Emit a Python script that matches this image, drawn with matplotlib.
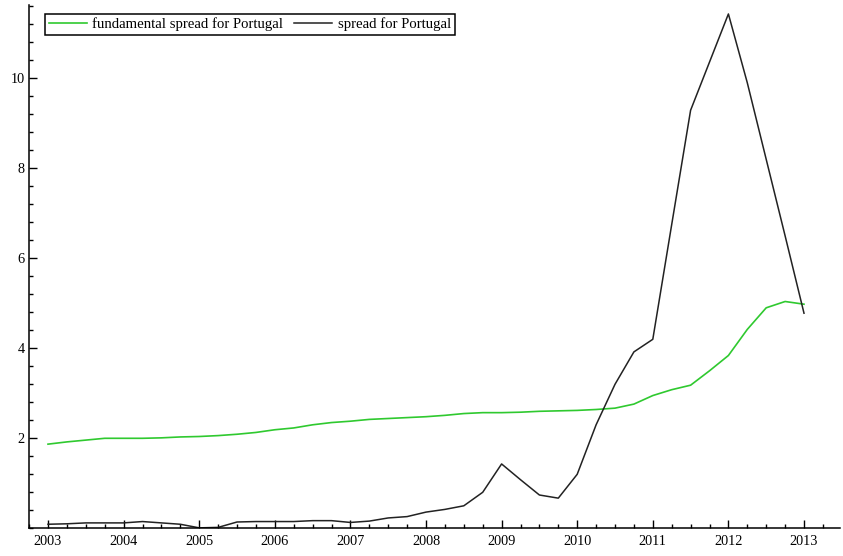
import numpy as np
import matplotlib
matplotlib.use("Agg")
import matplotlib.pyplot as plt
from matplotlib.ticker import MultipleLocator, FixedLocator

# Quarterly observations, 2003Q1 .. 2013Q1
years = np.arange(2003.0, 2013.01, 0.25)

fundamental_spread = [
    1.87, 1.92, 1.96, 2.00, 2.00, 2.00, 2.01, 2.03,
    2.04, 2.06, 2.09, 2.13, 2.19, 2.23, 2.30, 2.35,
    2.38, 2.42, 2.44, 2.46, 2.48, 2.51, 2.55, 2.57,
    2.57, 2.58, 2.60, 2.61, 2.62, 2.64, 2.67, 2.76,
    2.95, 3.08, 3.18, 3.50, 3.84, 4.42, 4.90, 5.04,
    4.98,
]

spread = [
    0.09, 0.10, 0.12, 0.12, 0.12, 0.15, 0.12, 0.09,
    0.01, 0.02, 0.14, 0.15, 0.15, 0.15, 0.17, 0.17,
    0.13, 0.16, 0.23, 0.26, 0.36, 0.42, 0.50, 0.80,
    1.43, 1.08, 0.74, 0.67, 1.20, 2.30, 3.20, 3.92,
    4.20, 6.75, 9.29, 10.36, 11.43, 9.90, 8.20, 6.50,
    4.78,
]

y_major = [2, 4, 6, 8, 10]
x_major = list(range(2003, 2014))

plt.rcParams["font.family"] = ["Liberation Serif", "DejaVu Serif"]

W, H = 843, 556
fig = plt.figure(figsize=(W / 100, H / 100), dpi=100)
left_px, right_px, top_px, bottom_px = 29, 840, 5, 528.3
ax = fig.add_axes([left_px / W, 1 - bottom_px / H,
                   (right_px - left_px) / W, (bottom_px - top_px) / H])

ax.plot(years, fundamental_spread, color="#2fc92f", lw=1.2,
        label="fundamental spread for Portugal")
ax.plot(years, spread, color="#222222", lw=1.1,
        label="spread for Portugal")

# x: 2003 sits at pixel 48, 75.6 px per year
px_per_year = 75.6
x0 = 2003 - (48 - left_px) / px_per_year
x1 = 2003 + (right_px - 48) / px_per_year
ax.set_xlim(x0, x1)
ax.set_ylim(0, (bottom_px - top_px) / 45.0)

ax.xaxis.set_major_locator(FixedLocator(x_major))
ax.xaxis.set_minor_locator(MultipleLocator(0.25))
ax.yaxis.set_major_locator(FixedLocator(y_major))
ax.yaxis.set_minor_locator(MultipleLocator(0.4))
ax.set_xticklabels([str(v) for v in x_major])
ax.set_yticklabels([str(v) for v in y_major])

ax.tick_params(which="both", direction="in", color="black", width=1.0,
               labelsize=10.3, top=False, right=False)
ax.tick_params(which="major", length=5.5)
ax.tick_params(which="minor", length=2.8)
ax.tick_params(axis="x", which="major", pad=5)
ax.tick_params(axis="y", which="major", pad=3)

for side in ("top", "right"):
    ax.spines[side].set_visible(False)
for side in ("left", "bottom"):
    ax.spines[side].set_linewidth(1.1)
    ax.spines[side].set_color("black")

leg = ax.legend(loc="upper left", ncol=2,
                bbox_to_anchor=(45 / W, 1 - 14 / H),
                bbox_transform=fig.transFigure, borderaxespad=0,
                fontsize=10.6, frameon=True, fancybox=False, shadow=False,
                handlelength=2.6, handletextpad=0.35, columnspacing=0.75,
                borderpad=0.25)
frame = leg.get_frame()
frame.set_edgecolor("black")
frame.set_linewidth(1.1)
frame.set_alpha(1)

fig.savefig("out.png", dpi=100)
